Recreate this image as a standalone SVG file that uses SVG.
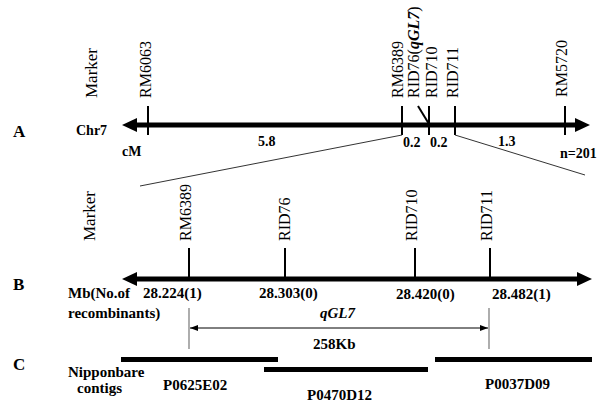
<svg xmlns="http://www.w3.org/2000/svg" width="600" height="410" viewBox="0 0 600 410" font-family="'Liberation Serif', 'Times New Roman', Times, serif">
<defs>
<marker id="thin" markerWidth="8" markerHeight="6" refX="8" refY="3" orient="auto-start-reverse" markerUnits="userSpaceOnUse">
<path d="M0,0 L8,3 L0,6 Z" fill="#000"/>
</marker>
</defs>
<style>
text{fill:#000}
.b{font-weight:bold;font-size:15px}
.n{font-weight:bold;font-size:14px}
.r{font-size:16px}
.L{font-weight:bold;font-size:17px}
.axis{stroke:#000;stroke-width:5}
.tick{stroke:#000;stroke-width:2}
.zoom{stroke:#333;stroke-width:1;fill:none}
.guide{stroke:#777;stroke-width:1.2}
.bar{fill:#000}
</style>
<rect width="600" height="410" fill="#fff"/>

<g id="panel-labels">
<text class="L" x="13" y="137">A</text>
<text class="L" x="13" y="290">B</text>
<text class="L" x="13" y="370">C</text>
</g>

<g id="chr7">
<line class="axis" x1="134" y1="125" x2="578" y2="125"/>
<polygon points="122,125 137,118 137,132"/>
<polygon points="590,125 575,118 575,132"/>
<text class="n" x="76" y="135">Chr7</text>
<text class="n" x="122" y="156">cM</text>
<text class="n" x="258" y="146">5.8</text>
<text class="n" x="403" y="147">0.2</text>
<text class="n" x="430" y="147">0.2</text>
<text class="n" x="498" y="146">1.3</text>
<text class="n" x="560" y="158">n=201</text>
<text class="r" transform="translate(97,98) rotate(-90)" style="font-size:17px">Marker</text>
</g>

<g id="A-RM6063">
<line class="tick" x1="148" y1="106" x2="148" y2="135"/>
<text class="r" transform="translate(151,98) rotate(-90)">RM6063</text>
</g>
<g id="A-RM6389">
<line class="tick" x1="402" y1="106" x2="402" y2="135"/>
<text class="r" transform="translate(403,98) rotate(-90)">RM6389</text>
</g>
<g id="A-RID76">
<line class="tick" x1="418" y1="106" x2="429" y2="124"/>
<text class="r" transform="translate(419,98) rotate(-90)">RID76(<tspan font-style="italic" font-weight="bold">qGL7</tspan>)</text>
</g>
<g id="A-RID710">
<line class="tick" x1="429" y1="106" x2="429" y2="135"/>
<text class="r" transform="translate(437,98) rotate(-90)">RID710</text>
</g>
<g id="A-RID711">
<line class="tick" x1="455" y1="106" x2="455" y2="135"/>
<text class="r" transform="translate(458,98) rotate(-90)">RID711</text>
</g>
<g id="A-RM5720">
<line class="tick" x1="565" y1="106" x2="565" y2="135"/>
<text class="r" transform="translate(567,97) rotate(-90)">RM5720</text>
</g>

<g id="connectors">
<line class="zoom" x1="402" y1="135" x2="140" y2="186"/>
<line class="zoom" x1="455" y1="135" x2="585" y2="175"/>
<line class="guide" x1="189" y1="308" x2="189" y2="349"/>
<line class="guide" x1="489" y1="308" x2="489" y2="349"/>
<line stroke="#000" stroke-width="1" x1="190" y1="328" x2="488" y2="328" marker-start="url(#thin)" marker-end="url(#thin)"/>
</g>

<g id="B-axis">
<line class="axis" x1="134" y1="279" x2="580" y2="279"/>
<polygon points="122,279 137,272 137,286"/>
<polygon points="592,279 577,272 577,286"/>
<text class="r" transform="translate(95,241) rotate(-90)" style="font-size:17px">Marker</text>
<text class="b" x="68" y="298">Mb(No.of</text>
<text class="b" x="68" y="318">recombinants)</text>
</g>

<g id="B-RM6389">
<line class="tick" x1="189" y1="248" x2="189" y2="280"/>
<text class="r" transform="translate(191,241) rotate(-90)">RM6389</text>
<text class="b" x="143" y="298">28.224(1)</text>
</g>
<g id="B-RID76">
<line class="tick" x1="285" y1="248" x2="285" y2="280"/>
<text class="r" transform="translate(290,241) rotate(-90)">RID76</text>
<text class="b" x="259" y="298">28.303(0)</text>
</g>
<g id="B-RID710">
<line class="tick" x1="415" y1="248" x2="415" y2="280"/>
<text class="r" transform="translate(417,241) rotate(-90)">RID710</text>
<text class="b" x="396" y="299">28.420(0)</text>
</g>
<g id="B-RID711">
<line class="tick" x1="490" y1="248" x2="490" y2="280"/>
<text class="r" transform="translate(492,241) rotate(-90)">RID711</text>
<text class="b" x="492" y="299">28.482(1)</text>
</g>

<g id="qGL7-interval">
<text class="b" x="320" y="318" font-style="italic">qGL7</text>
<text class="b" x="313" y="349">258Kb</text>
</g>

<g id="contigs">
<text class="b" x="68" y="377">Nipponbare</text>
<text class="b" x="77" y="393">contigs</text>
</g>
<g id="P0625E02">
<rect class="bar" x="121" y="357" width="157" height="5"/>
<text class="b" x="163" y="390">P0625E02</text>
</g>
<g id="P0470D12">
<rect class="bar" x="264" y="367" width="164" height="5"/>
<text class="b" x="307" y="400">P0470D12</text>
</g>
<g id="P0037D09">
<rect class="bar" x="435" y="357" width="157" height="5"/>
<text class="b" x="485" y="389">P0037D09</text>
</g>
</svg>
